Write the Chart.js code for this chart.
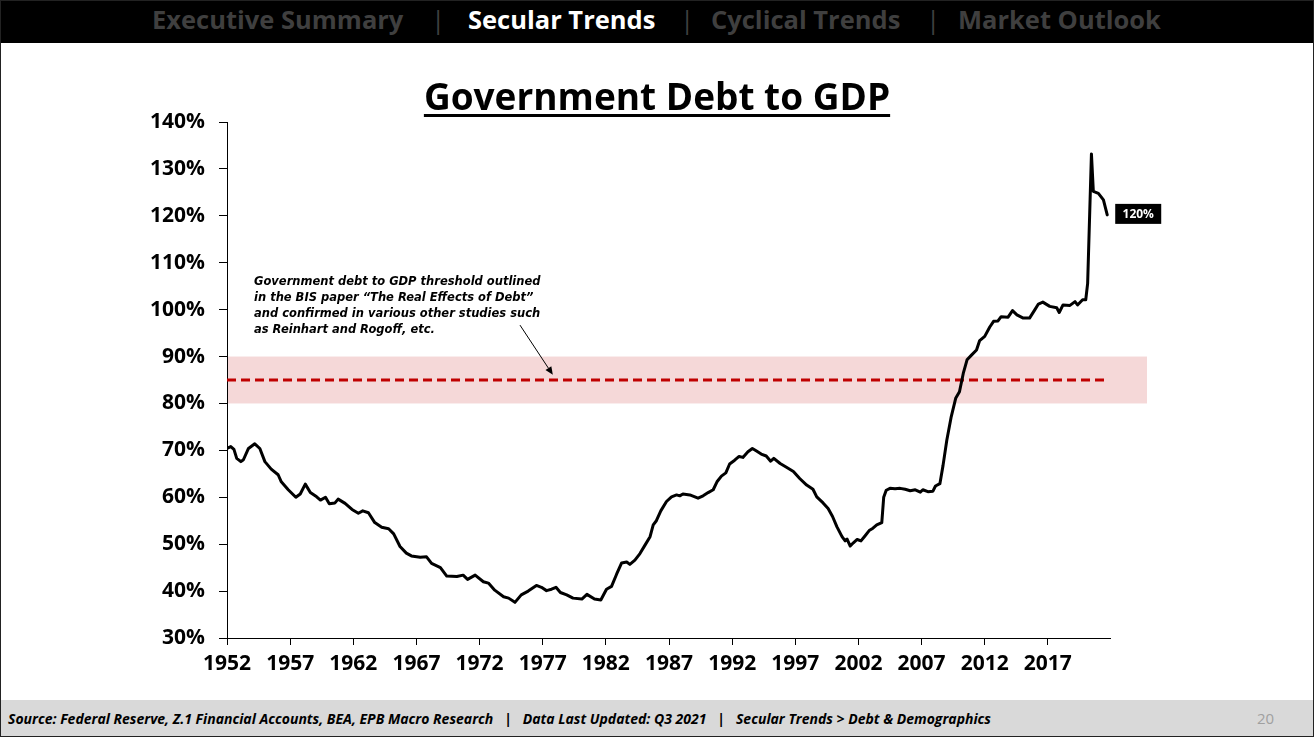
<!DOCTYPE html>
<html>
<head>
<meta charset="utf-8">
<script src="https://cdn.jsdelivr.net/npm/chart.js@4.4.1/dist/chart.umd.min.js"></script>
<style>
  html,body{margin:0;padding:0;background:#fff;}
  #slide{position:relative;width:1314px;height:737px;overflow:hidden;background:#fff;}
  #frame{position:absolute;left:0;top:0;width:1312px;height:735px;border:1px solid #222;pointer-events:none;}
  #hdr{position:absolute;left:0;top:0;width:1314px;height:43px;background:#000;}
  .nav{position:absolute;top:0px;font-family:"Open Sans",sans-serif;font-weight:700;font-size:25.5px;line-height:38px;color:#3f3f3f;white-space:nowrap;}
  .sep{position:absolute;top:0px;font-family:"Open Sans",sans-serif;font-size:26px;line-height:38px;color:#3f3f3f;}
  #title{position:absolute;left:0;width:1314px;top:72px;text-align:center;font-family:"Open Sans",sans-serif;font-weight:700;font-size:37px;line-height:48px;text-decoration:underline;text-decoration-thickness:3px;text-underline-offset:4px;color:#000;}
  #note{position:absolute;left:254px;top:273px;font-family:"DejaVu Sans",sans-serif;font-weight:700;font-style:italic;font-size:11.5px;line-height:16px;color:#000;white-space:nowrap;}
  #ftr{position:absolute;left:0;top:700px;width:1314px;height:37px;background:#d9d9d9;}
  #src{position:absolute;left:8px;top:9px;font-family:"Open Sans",sans-serif;font-style:italic;font-weight:700;font-size:14px;line-height:20px;color:#000;white-space:pre;}
  #pg{position:absolute;left:1257px;top:8px;font-family:"Open Sans",sans-serif;font-size:15px;line-height:20px;color:#a0a0a0;}
  canvas{position:absolute;left:0;top:0;}
</style>
</head>
<body>
<div id="slide">
  <canvas id="c" width="1314" height="737"></canvas>
  <div id="hdr">
    <span class="nav" style="left:152px;">Executive Summary</span>
    <span class="sep" style="left:431px;">|</span>
    <span class="nav" style="left:468px;color:#fff;">Secular Trends</span>
    <span class="sep" style="left:680px;">|</span>
    <span class="nav" style="left:711px;">Cyclical Trends</span>
    <span class="sep" style="left:926px;">|</span>
    <span class="nav" style="left:958px;">Market Outlook</span>
  </div>
  <div id="title">Government Debt to GDP</div>
  <div id="note">Government debt to GDP threshold outlined<br>in the BIS paper “The Real Effects of Debt”<br>and confirmed in various other studies such<br>as Reinhart and Rogoff, etc.</div>
  <div id="ftr">
    <div id="src">Source: Federal Reserve, Z.1 Financial Accounts, BEA, EPB Macro Research   |   Data Last Updated: Q3 2021   |   Secular Trends &gt; Debt &amp; Demographics</div>
    <div id="pg">20</div>
  </div>
  <div id="frame"></div>
</div>
<script>
// ---- data ----
const years = [
 1952.0,1952.3,1952.55,1952.77,1953.1,1953.3,1953.7,1954.2,1954.6,1955.0,1955.5,1956.05,1956.3,1956.85,
 1957.45,1957.8,1958.2,1958.6,1959.1,1959.4,1959.8,1960.1,1960.55,1960.8,1961.35,1961.9,1962.4,1962.75,
 1963.2,1963.7,1964.25,1964.8,1965.2,1965.7,1966.2,1966.6,1967.3,1967.8,1968.2,1968.9,1969.4,1970.2,
 1970.7,1971.05,1971.65,1972.3,1972.7,1973.2,1973.9,1974.3,1974.8,1975.3,1975.85,1976.5,1976.9,1977.3,
 1977.7,1978.05,1978.4,1978.9,1979.4,1980.1,1980.5,1981.1,1981.6,1982.05,1982.45,1982.85,1983.25,1983.65,
 1983.9,1984.3,1984.7,1985.1,1985.5,1985.75,1986.0,1986.35,1986.8,1987.2,1987.6,1987.85,1988.1,1988.65,
 1989.3,1989.7,1990.1,1990.5,1990.8,1991.15,1991.5,1991.8,1992.2,1992.55,1992.85,1993.25,1993.6,1993.9,
 1994.3,1994.7,1995.05,1995.3,1995.8,1996.3,1996.85,1997.35,1997.9,1998.4,1998.7,1999.2,1999.6,1999.95,
 2000.3,2000.7,2000.95,2001.1,2001.35,2001.6,2001.9,2002.2,2002.5,2002.85,2003.15,2003.45,2003.85,2004.0,
 2004.2,2004.5,2004.9,2005.3,2005.7,2006.1,2006.5,2006.9,2007.1,2007.5,2007.9,2008.1,2008.45,2008.7,
 2009.0,2009.35,2009.7,2010.0,2010.3,2010.6,2010.95,2011.35,2011.6,2012.0,2012.4,2012.7,2013.05,2013.3,
 2013.85,2014.2,2014.55,2015.05,2015.55,2015.95,2016.25,2016.6,2017.15,2017.7,2017.9,2018.2,2018.75,2019.15,
 2019.35,2019.75,2020.0,2020.15,2020.45,2020.6,2021.0,2021.4,2021.7
];
const debtToGdp = [
 70.4,70.8,70.2,68.3,67.6,68.0,70.4,71.4,70.4,67.6,66.0,64.8,63.3,61.6,
 60.0,60.7,62.8,61.0,60.1,59.4,60.0,58.6,58.8,59.6,58.7,57.4,56.6,57.1,
 56.7,54.6,53.6,53.3,52.2,49.5,48.1,47.5,47.2,47.3,45.9,45.0,43.2,43.1,
 43.4,42.5,43.4,42.0,41.7,40.2,38.8,38.5,37.6,39.2,40.0,41.2,40.8,40.1,
 40.4,40.8,39.7,39.2,38.5,38.3,39.3,38.3,38.1,40.4,41.0,43.6,46.0,46.2,
 45.7,46.6,48.0,49.8,51.6,54.1,55.0,57.1,59.1,60.1,60.5,60.3,60.7,60.5,
 59.8,60.3,61.0,61.6,63.3,64.5,65.2,67.1,67.9,68.7,68.5,69.7,70.4,69.9,
 69.2,68.8,67.7,68.3,67.2,66.4,65.5,64.0,62.6,61.7,60.1,58.8,57.6,55.9,
 53.7,51.6,50.7,51.1,49.6,50.3,51.0,50.7,51.7,52.9,53.4,54.1,54.6,60.0,
 61.5,61.9,61.8,61.9,61.7,61.4,61.6,61.1,61.6,61.2,61.3,62.4,62.9,66.8,
 72.2,77.2,81.1,82.5,86.4,89.3,90.3,91.4,93.4,94.3,96.3,97.5,97.6,98.5,
 98.4,99.8,98.9,98.2,98.2,99.9,101.2,101.6,100.7,100.4,99.4,101.0,100.9,101.7,
 101.0,102.1,102.1,105.6,133.2,125.2,124.8,123.4,120.2
];
const xTickYears = [1952,1957,1962,1967,1972,1977,1982,1987,1992,1997,2002,2007,2012,2017];
const yTickValues = [30,40,50,60,70,80,90,100,110,120,130,140];
const thresholdYears = [1952, 2021.75];
const thresholdValues = [85, 85];
const bandLow = 80, bandHigh = 90, bandEndYear = 2024.85;
const arrowFrom = {x:1975.2, y:96.7}, arrowTo = {x:1977.8, y:86.1};
// -----------------------------------------------

const mainPts = years.map((yr,i)=>({x:yr,y:debtToGdp[i]}));
const threshPts = thresholdYears.map((yr,i)=>({x:yr,y:thresholdValues[i]}));

const extras = {
  id:'extras',
  beforeDatasetsDraw(chart){
    const {ctx, scales:{x,y}} = chart;
    const x0 = x.getPixelForValue(xTickYears[0]) + 1;
    const x1 = x.getPixelForValue(bandEndYear);
    const yt = y.getPixelForValue(bandHigh), yb = y.getPixelForValue(bandLow);
    ctx.save();
    ctx.fillStyle = '#f5d8d8';
    ctx.fillRect(x0, yt, x1-x0, yb-yt);
    ctx.restore();
  },
  afterDatasetsDraw(chart){
    const {ctx, scales:{x,y}} = chart;
    // arrow
    const ax0 = x.getPixelForValue(arrowFrom.x), ay0 = y.getPixelForValue(arrowFrom.y);
    const ax1 = x.getPixelForValue(arrowTo.x), ay1 = y.getPixelForValue(arrowTo.y);
    ctx.save();
    ctx.strokeStyle = '#000'; ctx.fillStyle = '#000'; ctx.lineWidth = 1;
    const ang = Math.atan2(ay1-ay0, ax1-ax0);
    const hl = 8, hw = 3.5;
    const bx = ax1 - hl*Math.cos(ang), by = ay1 - hl*Math.sin(ang);
    ctx.beginPath(); ctx.moveTo(ax0, ay0); ctx.lineTo(bx, by); ctx.stroke();
    ctx.beginPath();
    ctx.moveTo(ax1, ay1);
    ctx.lineTo(bx + hw*Math.sin(ang), by - hw*Math.cos(ang));
    ctx.lineTo(bx - hw*Math.sin(ang), by + hw*Math.cos(ang));
    ctx.closePath(); ctx.fill();
    // last value label
    const n = years.length - 1;
    const px = x.getPixelForValue(years[n]), py = y.getPixelForValue(debtToGdp[n]);
    const txt = Math.round(debtToGdp[n]) + '%';
    ctx.font = '700 12px "Open Sans", sans-serif';
    const w = 46, h = 20;
    const bxl = px + 8, byt = py - 11;
    ctx.fillStyle = '#000';
    ctx.fillRect(bxl, byt, w, h);
    ctx.fillStyle = '#fff';
    ctx.textAlign = 'center'; ctx.textBaseline = 'middle';
    ctx.fillText(txt, bxl + w/2, byt + h/2 + 1);
    ctx.restore();
  }
};

const tickFont = {family:'"Open Sans", sans-serif', weight:'700', size:21};

new Chart(document.getElementById('c'), {
  type:'line',
  data:{
    datasets:[
      {data:mainPts, borderColor:'#000', borderWidth:3, pointRadius:0, tension:0, order:0,
       borderJoinStyle:'round', borderCapStyle:'round'},
      {data:threshPts, borderColor:'#c00000', borderWidth:3, borderDash:[9,5], pointRadius:0, order:1}
    ]
  },
  options:{
    responsive:false, animation:false, devicePixelRatio:1,
    layout:{padding:{top:122, right:204, bottom:39, left:0}},
    plugins:{legend:{display:false}, tooltip:{enabled:false}},
    scales:{
      x:{
        type:'linear', min:1952, max:2021.92,
        afterBuildTicks(s){ s.ticks = xTickYears.map(v=>({value:v})); },
        afterFit(s){ s.height = 60; },
        ticks:{color:'#000', font:tickFont, padding:6, maxRotation:0, autoSkip:false,
               callback:(v)=>String(v)},
        grid:{display:true, drawOnChartArea:false, drawTicks:true, tickLength:7, color:'#000', lineWidth:1},
        border:{display:true, color:'#000', width:1}
      },
      y:{
        min:30, max:140,
        afterBuildTicks(s){ s.ticks = yTickValues.map(v=>({value:v})); },
        afterFit(s){ s.width = 227; },
        ticks:{color:'#000', font:tickFont, padding:14, callback:(v)=>v+'%'},
        grid:{display:true, drawOnChartArea:false, drawTicks:true, tickLength:8, color:'#000', lineWidth:1},
        border:{display:true, color:'#000', width:1}
      }
    }
  },
  plugins:[extras]
});
</script>
</body>
</html>
